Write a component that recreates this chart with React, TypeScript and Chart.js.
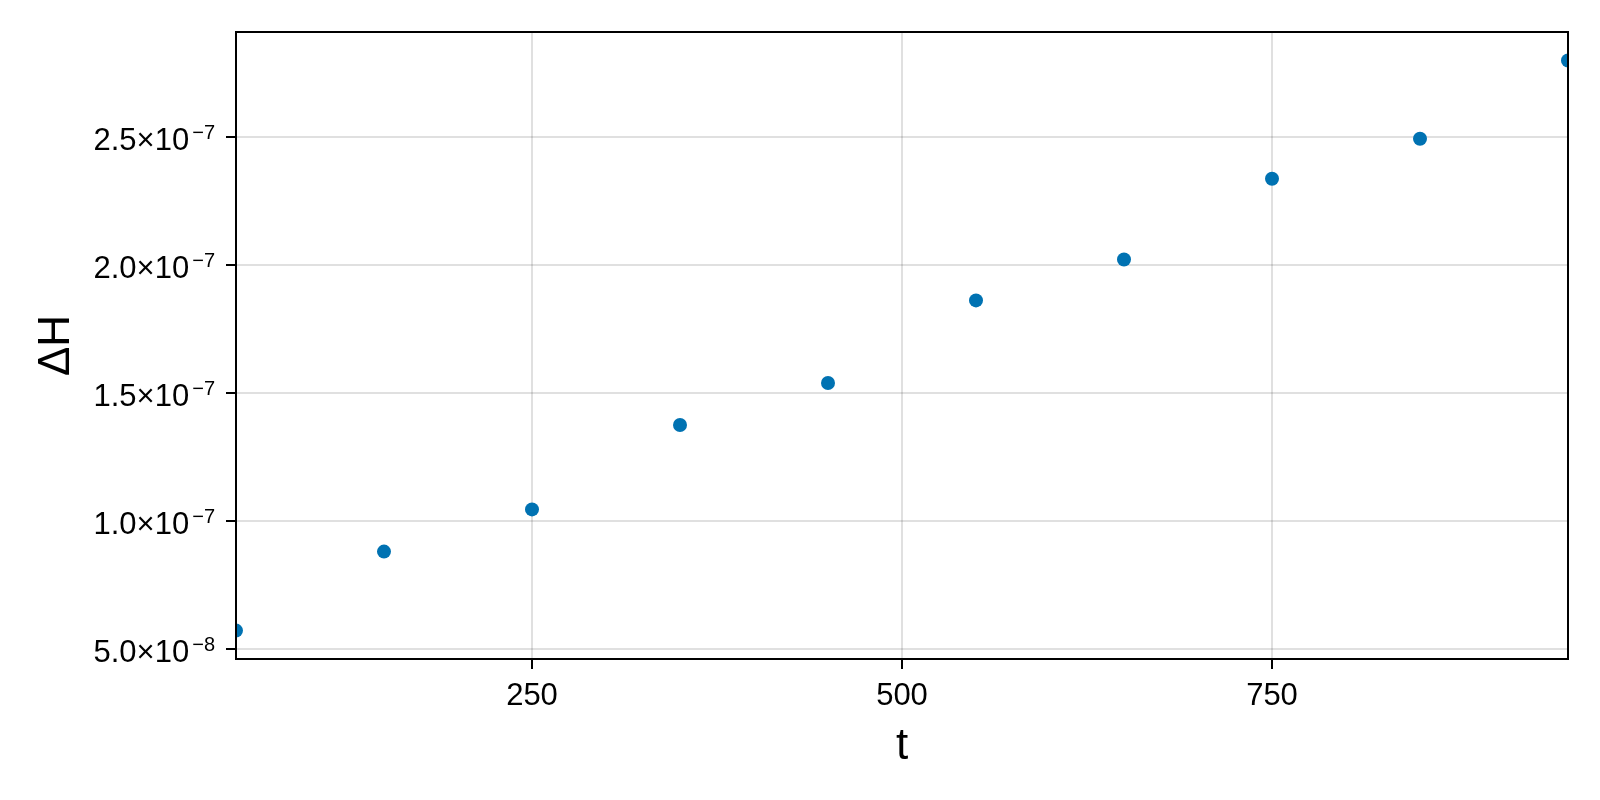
import { useEffect, useRef } from "react"
import { Chart, registerables } from "chart.js"

Chart.register(...registerables)

const FONT = "'Liberation Sans', Arial, Helvetica, sans-serif"

// data
const times = [50, 150, 250, 350, 450, 550, 650, 750, 850, 950]
const deltaH = [5.71e-8, 8.8e-8, 1.045e-7, 1.375e-7, 1.539e-7, 1.862e-7, 2.022e-7, 2.338e-7, 2.494e-7, 2.8e-7]

const xTicks = [250, 500, 750]
const yTicks = [5e-8, 1e-7, 1.5e-7, 2e-7, 2.5e-7]
const yMantissas = ["5.0", "1.0", "1.5", "2.0", "2.5"]
const yExponents = ["\u22128", "\u22127", "\u22127", "\u22127", "\u22127"]

// frame round the plot + y tick labels with superscript exponents
const frameAndLabels = {
  id: "frameAndLabels",
  afterDraw(chart: Chart) {
    const { ctx, chartArea } = chart
    const y = chart.scales.y
    ctx.save()
    ctx.strokeStyle = "#000"
    ctx.lineWidth = 2
    ctx.strokeRect(chartArea.left, chartArea.top, chartArea.right - chartArea.left, chartArea.bottom - chartArea.top)

    ctx.fillStyle = "#000"
    ctx.textAlign = "right"
    ctx.textBaseline = "alphabetic"
    const right = y.right - 21
    yTicks.forEach((v, i) => {
      const py = y.getPixelForValue(v)
      ctx.font = `20px ${FONT}`
      const ew = ctx.measureText(yExponents[i]).width
      ctx.fillText(yExponents[i], right, py + 2)
      ctx.font = `31px ${FONT}`
      ctx.fillText(`${yMantissas[i]}\u00d710`, right - ew - 3, py + 13)
    })
    ctx.restore()
  },
}

export default function App() {
  const chartRef = useRef<HTMLCanvasElement>(null)
  const chartInstance = useRef<Chart | null>(null)

  useEffect(() => {
    document.body.style.margin = "0"
    if (!chartRef.current) return
    if (chartInstance.current) chartInstance.current.destroy()

    Chart.defaults.font.family = FONT
    Chart.defaults.color = "#000"

    const ctx = chartRef.current.getContext("2d")
    if (!ctx) return

    chartInstance.current = new Chart(ctx, {
      type: "scatter",
      data: {
        datasets: [
          {
            data: times.map((t, i) => ({ x: t, y: deltaH[i] })),
            backgroundColor: "#0072B2",
            borderWidth: 0,
            pointRadius: 7,
            clip: 0,
          },
        ],
      },
      options: {
        animation: false,
        responsive: true,
        maintainAspectRatio: false,
        layout: { padding: { top: 32, right: 32, left: 0, bottom: 0 } },
        plugins: {
          legend: { display: false },
          tooltip: { enabled: false },
        },
        scales: {
          x: {
            type: "linear",
            min: 50,
            max: 950,
            afterBuildTicks: (scale) => {
              scale.ticks = xTicks.map((v) => ({ value: v }))
            },
            afterFit: (scale) => {
              scale.height = 141
            },
            border: { display: false },
            grid: {
              color: "rgba(0,0,0,0.12)",
              lineWidth: 2,
              tickColor: "#000",
              tickWidth: 2,
              tickLength: 10,
            },
            ticks: {
              autoSkip: false,
              maxRotation: 0,
              padding: 9,
              font: { size: 31 },
              color: "#000",
            },
            title: {
              display: true,
              text: "t",
              font: { size: 44 },
              color: "#000",
              padding: { top: 0, bottom: 27 },
            },
          },
          y: {
            type: "linear",
            min: 4.6e-8,
            max: 2.9115e-7,
            afterBuildTicks: (scale) => {
              scale.ticks = yTicks.map((v) => ({ value: v }))
            },
            afterFit: (scale) => {
              scale.width = 236
            },
            border: { display: false },
            grid: {
              color: "rgba(0,0,0,0.12)",
              lineWidth: 2,
              tickColor: "#000",
              tickWidth: 2,
              tickLength: 10,
            },
            ticks: {
              callback: () => "",
              font: { size: 30 },
            },
            title: {
              display: true,
              text: "ΔH",
              font: { size: 44 },
              color: "#000",
              padding: { top: 30, bottom: 0 },
            },
          },
        },
      },
      plugins: [frameAndLabels],
    })

    return () => {
      if (chartInstance.current) {
        chartInstance.current.destroy()
        chartInstance.current = null
      }
    }
  }, [])

  return (
    <div style={{ position: "relative", width: 1600, height: 800 }}>
      <canvas ref={chartRef} />
    </div>
  )
}
